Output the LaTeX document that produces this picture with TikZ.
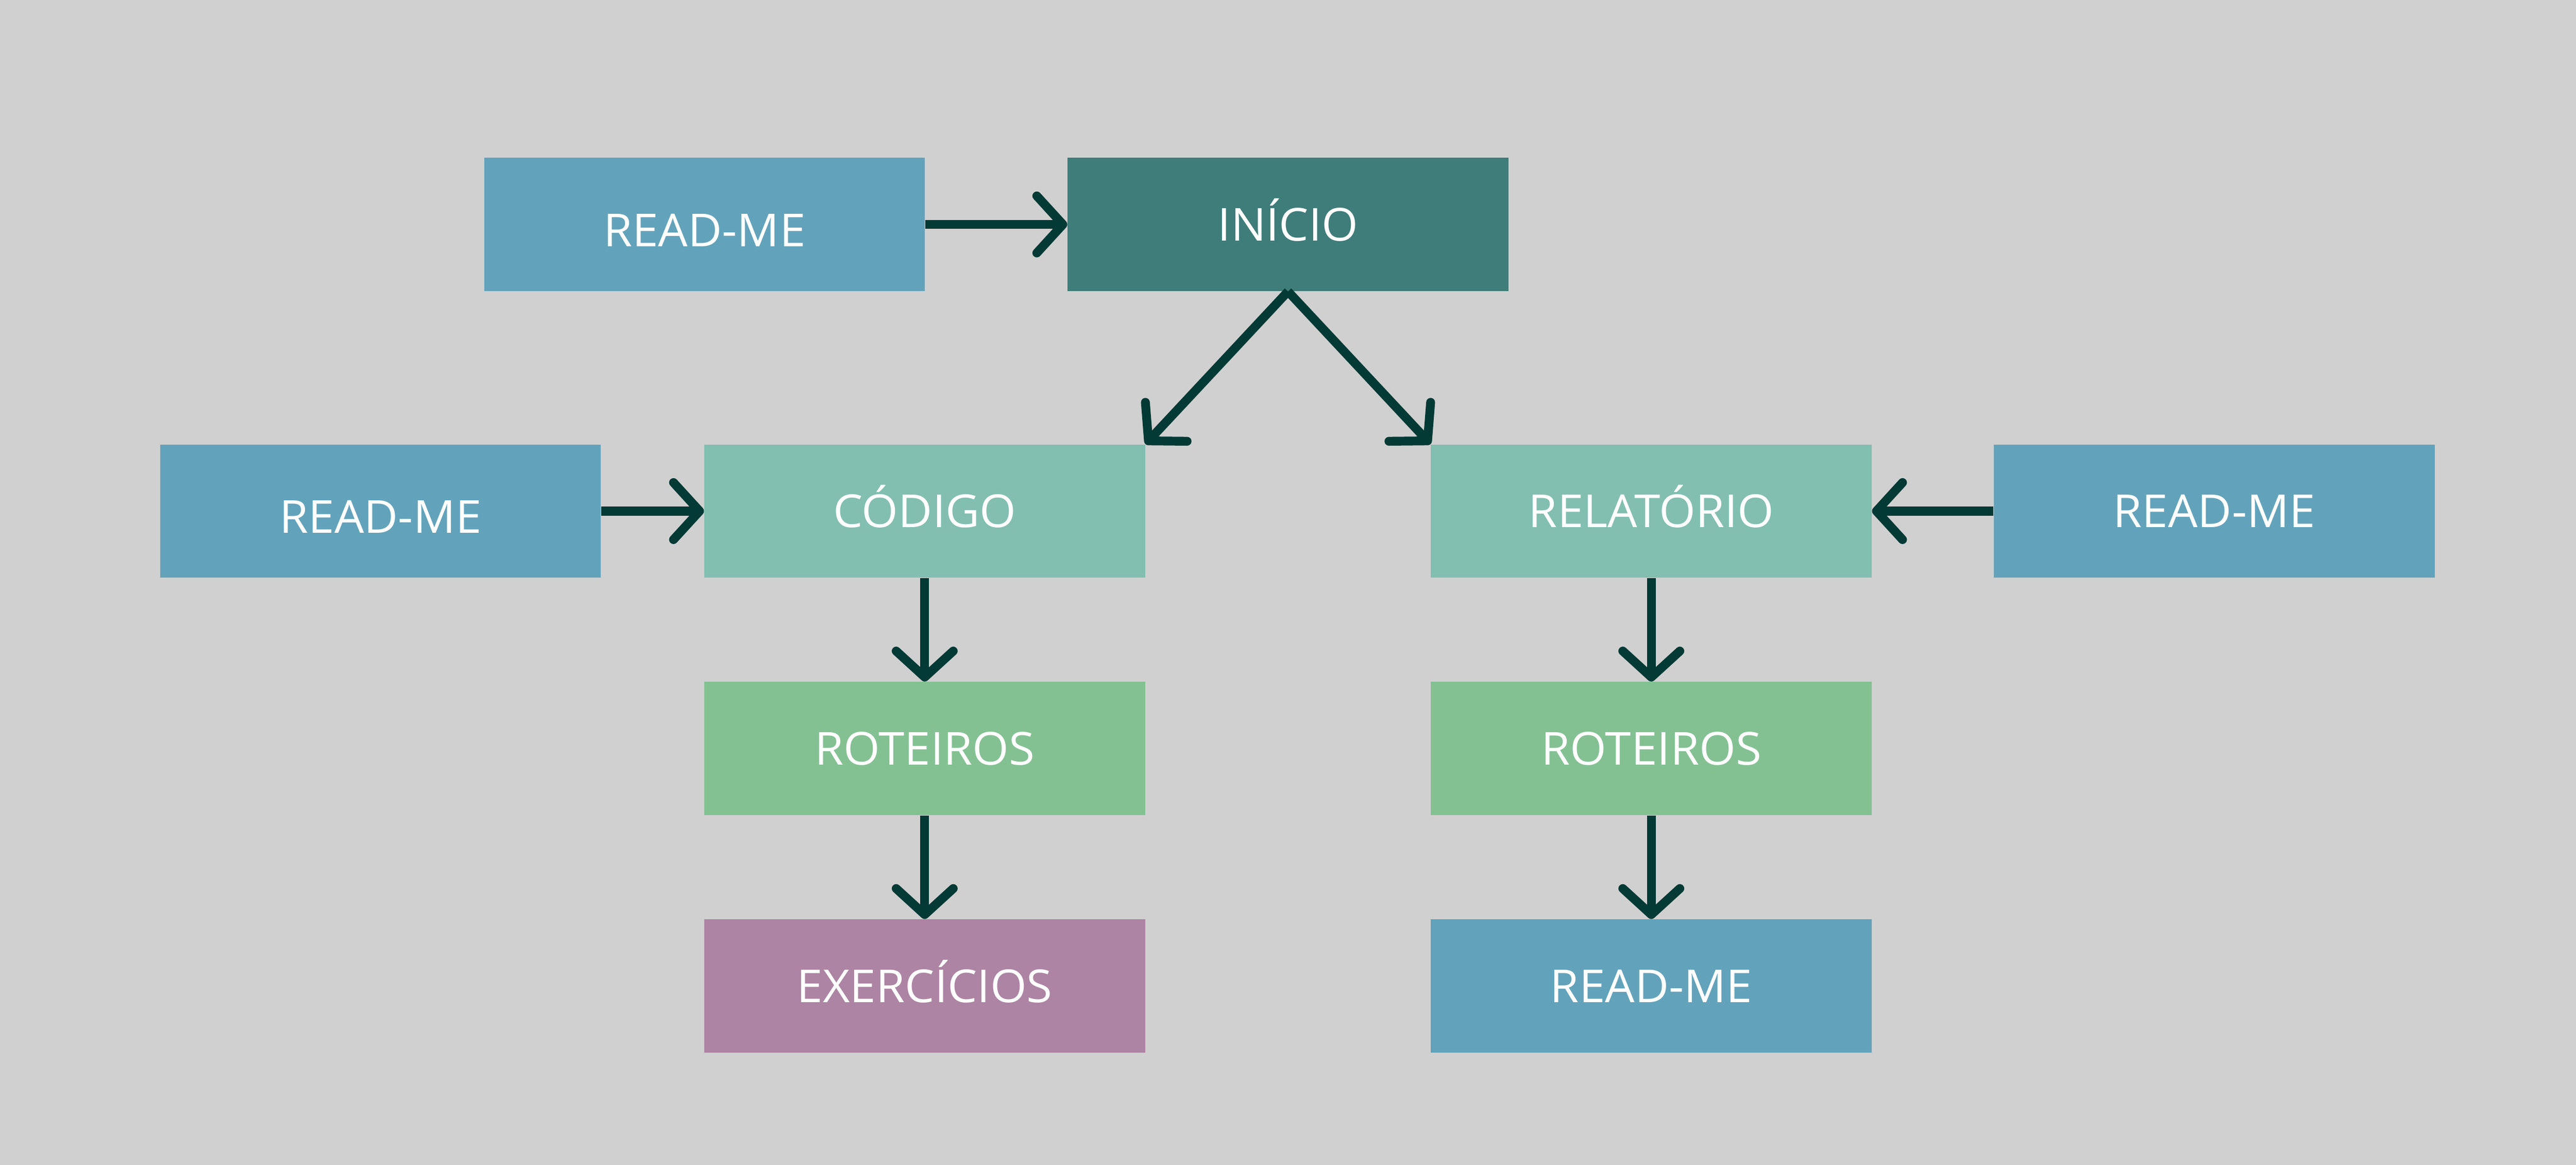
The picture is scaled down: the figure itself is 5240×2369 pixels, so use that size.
\documentclass[tikz,border=0pt]{standalone}
\usepackage{fontspec}
\setmainfont{Open Sans}[FakeStretch=1.03]
\usetikzlibrary{arrows.meta}
\definecolor{bgc}{HTML}{D0D0D0}
\definecolor{readmecol}{HTML}{62A3BB}
\definecolor{iniciocol}{HTML}{3F7D7A}
\definecolor{mintcol}{HTML}{82BFB0}
\definecolor{leafcol}{HTML}{83C193}
\definecolor{mauvecol}{HTML}{AD84A3}
\definecolor{arrowcol}{HTML}{033A35}
\begin{document}
\begin{tikzpicture}[x=0.01cm,y=-0.01cm,
  boxnode/.style={rectangle, inner sep=0pt, minimum width=8.96cm, minimum height=2.71cm,
    text=white, font=\fontsize{26.3pt}{30pt}\selectfont, text height=0.66cm, text depth=0pt},
  flow/.style={draw=arrowcol, line width=0.18cm,
    -{Straight Barb[length=0.53cm, width=1.16cm, round]}}]
\fill[bgc] (0,0) rectangle (5240,2369);
\useasboundingbox (0,0) rectangle (5240,2369);

\node[boxnode, fill=readmecol] (rmtop) at (1433,456.5) {\raisebox{-0.12cm}{READ-ME}};
\node[boxnode, fill=iniciocol] (inicio) at (2620,456.5) {INÍCIO};
\node[boxnode, fill=readmecol] (rmleft) at (774,1039.5) {\raisebox{-0.12cm}{READ-ME}};
\node[boxnode, fill=mintcol] (codigo) at (1881,1039.5) {CÓDIGO};
\node[boxnode, fill=mintcol] (relatorio) at (3359,1039.5) {RELATÓRIO};
\node[boxnode, fill=readmecol] (rmright) at (4504,1039.5) {READ-ME};
\node[boxnode, fill=leafcol] (rotleft) at (1881,1522.5) {ROTEIROS};
\node[boxnode, fill=leafcol] (rotright) at (3359,1522.5) {ROTEIROS};
\node[boxnode, fill=mauvecol] (exerc) at (1881,2005.5) {EXERCÍCIOS};
\node[boxnode, fill=readmecol] (rmbot) at (3359,2005.5) {READ-ME};

\draw[flow] (rmtop.east) -- (inicio.west);
\draw[flow] (inicio.south) -- (codigo.north east);
\draw[flow] (inicio.south) -- (relatorio.north west);
\draw[flow] (rmleft.east) -- (codigo.west);
\draw[flow] (rmright.west) -- (relatorio.east);
\draw[flow] (codigo.south) -- (rotleft.north);
\draw[flow] (rotleft.south) -- (exerc.north);
\draw[flow] (relatorio.south) -- (rotright.north);
\draw[flow] (rotright.south) -- (rmbot.north);
\end{tikzpicture}
\end{document}
